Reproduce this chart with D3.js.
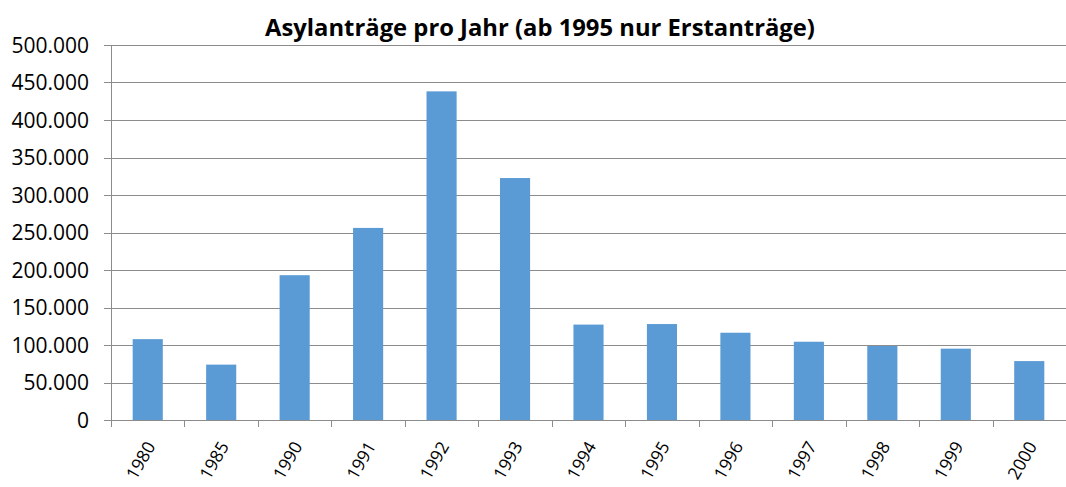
<!DOCTYPE html>
<html>
<head>
<meta charset="utf-8">
<script src="https://cdn.jsdelivr.net/npm/d3@7"></script>
<style>
    body { margin: 0; background: #fff; }
    text { font-family: "Open Sans", sans-serif; fill: #000; }
</style>
</head>
<body>
<div class="chart"></div>
<script>
// data
var years = ["1980", "1985", "1990", "1991", "1992", "1993", "1994", "1995", "1996", "1997", "1998", "1999", "2000"];
var applications = [107818, 73832, 193063, 256112, 438191, 322599, 127210, 127937, 116367, 104353, 98644, 95113, 78564];
var yTicks = [0, 50000, 100000, 150000, 200000, 250000, 300000, 350000, 400000, 450000, 500000];
var title = "Asylanträge pro Jahr (ab 1995 nur Erstanträge)";

var W = 1066, H = 487;
var margin = { top: 45, right: 0, bottom: 67, left: 111 };
var width = W - margin.left - margin.right,
    height = H - margin.top - margin.bottom;

var de = d3.formatLocale({ decimal: ",", thousands: ".", grouping: [3], currency: ["", " €"] });
var fmt = de.format(",d");

var svg = d3.select(".chart").append("svg")
    .attr("width", W)
    .attr("height", H);

var g = svg.append("g")
    .attr("transform", "translate(" + margin.left + "," + margin.top + ")");

var x = d3.scaleBand()
    .domain(years)
    .range([0, width])
    .paddingInner(0.59)
    .paddingOuter(0.295);

var y = d3.scaleLinear()
    .domain([0, 500000])
    .range([height, 0]);

// grid lines
g.selectAll(".grid")
    .data(yTicks)
    .enter().append("line")
    .attr("class", "grid")
    .attr("x1", -7)
    .attr("x2", width)
    .attr("y1", d => Math.round(y(d)) + 0.5)
    .attr("y2", d => Math.round(y(d)) + 0.5)
    .attr("stroke", "#8c8c8c")
    .attr("stroke-width", 1);

// y labels
g.selectAll(".ylab")
    .data(yTicks)
    .enter().append("text")
    .attr("class", "ylab")
    .attr("x", -22)
    .attr("y", d => y(d))
    .attr("dy", "0.36em")
    .attr("text-anchor", "end")
    .style("font-size", "21px")
    .text(d => fmt(d));

// bars
g.selectAll(".bar")
    .data(applications)
    .enter().append("rect")
    .attr("class", "bar")
    .attr("x", (d, i) => x(years[i]))
    .attr("width", x.bandwidth())
    .attr("y", d => y(d))
    .attr("height", d => height - y(d))
    .attr("fill", "#5b9bd5");

// y axis line
g.append("line")
    .attr("x1", 0.5).attr("x2", 0.5)
    .attr("y1", 0).attr("y2", height)
    .attr("stroke", "#8c8c8c");

// x axis ticks at band boundaries
var step = x.step();
var bounds = d3.range(years.length + 1).map(i => i * step);
g.selectAll(".xtick")
    .data(bounds)
    .enter().append("line")
    .attr("class", "xtick")
    .attr("x1", d => Math.round(d) + 0.5)
    .attr("x2", d => Math.round(d) + 0.5)
    .attr("y1", height)
    .attr("y2", height + 7)
    .attr("stroke", "#8c8c8c");

// x labels
g.selectAll(".xlab")
    .data(years)
    .enter().append("text")
    .attr("class", "xlab")
    .attr("text-anchor", "end")
    .attr("transform", d => "translate(" + (x(d) + x.bandwidth() / 2 + 3) + "," + (height + 23) + ") rotate(-60)")
    .attr("dy", "0.35em")
    .style("font-size", "17.5px")
    .text(d => d);

// title
var t = svg.append("text")
    .attr("x", 540)
    .attr("y", 36)
    .attr("text-anchor", "middle")
    .style("font-size", "24px")
    .style("font-weight", "bold")
    .text(title);
var tw = t.node().getComputedTextLength();
t.style("font-size", (24 * 550 / tw) + "px");
</script>
</body>
</html>
